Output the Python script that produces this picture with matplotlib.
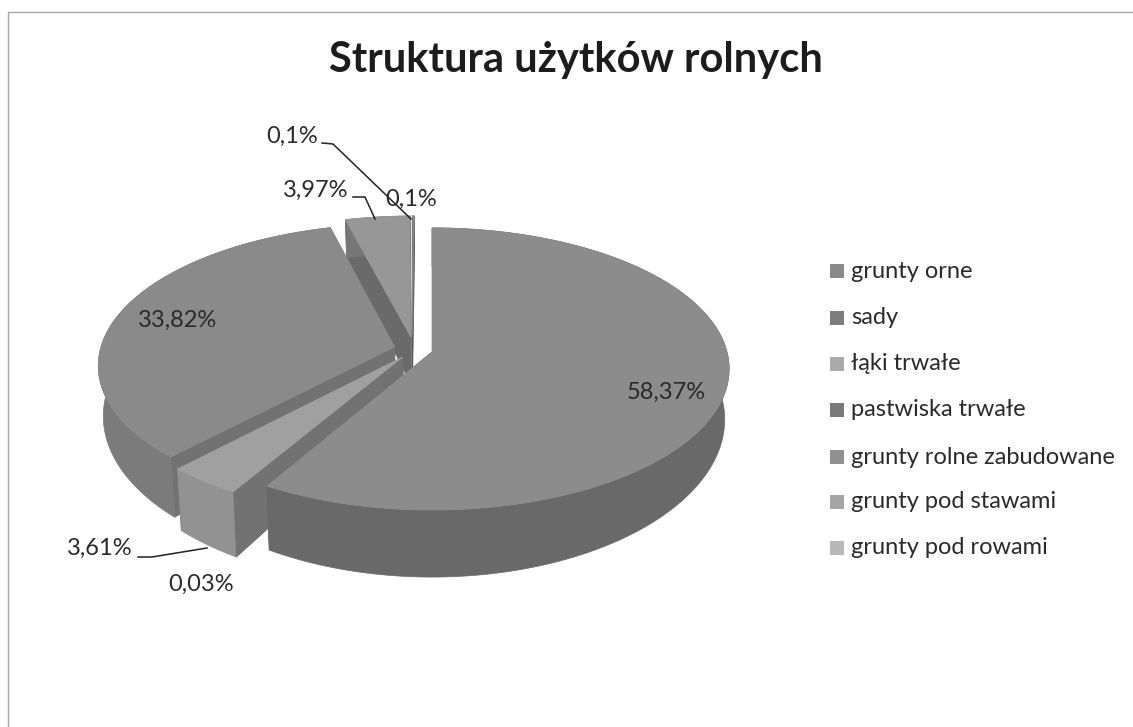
import numpy as np
import matplotlib
matplotlib.use("Agg")
from matplotlib import pyplot as plt
from matplotlib.patches import Rectangle

categories = ["grunty orne", "sady", "łąki trwałe", "pastwiska trwałe",
              "grunty rolne zabudowane", "grunty pod stawami", "grunty pod rowami"]
values = [58.37, 0.03, 3.61, 33.82, 3.97, 0.1, 0.1]
value_labels = ["58,37%", "0,03%", "3,61%", "33,82%", "3,97%", "0,1%", "0,1%"]

top_colors = ["#8c8c8c", "#7f7f7f", "#a0a0a0", "#8a8a8a", "#979797", "#e8e8e8", "#8a8a8a"]
wall_colors = ["#696969", "#6a6a6a", "#929292", "#7b7b7b", "#777777", "#555555", "#555555"]
face_colors = ["#696969", "#6a6a6a", "#727272", "#727272", "#6a6a6a", "#555555", "#555555"]
legend_colors = ["#8a8a8a", "#7d7d7d", "#aaaaaa", "#7a7a7a", "#909090", "#a5a5a5", "#b8b8b8"]

# how far each slice is pulled out of the pie (right, back)
pull = [(0, 0), (-0.0985, -0.0355), (-0.0985, -0.0355), (-0.127, 0.036),
        (-0.0726, 0.109), (-0.068, 0.109), (-0.068, 0.109)]
draw_order = [4, 5, 6, 3, 1, 2, 0]

W, H = 1133, 727
plt.rcParams["font.family"] = ["Lato", "DejaVu Sans"]
fig = plt.figure(figsize=(W / 100, H / 100), dpi=100, facecolor="white")
ax = fig.add_axes([0, 0, 1, 1])
ax.set_xlim(0, W)
ax.set_ylim(H, 0)
ax.axis("off")
ax.plot([8, 8, W], [H, 12, 12], color="#a8a8a8", lw=1)

# perspective of the tilted disc, pixels on screen
px, py, A, B, k = 432, 352, 139, 295, 0.12
D, k2 = 49, 0.27


def top_xy(u, v):
    return px + B * u / (1 + k * v), py - A * v / (1 + k * v)


def bottom_xy(u, v):
    x, y = top_xy(u, v)
    return px + (x - px) * 0.985, y + D / (1 + k2 * v)


edges = np.cumsum([0] + values) / sum(values) * 2 * np.pi


def slice_parts(i):
    t = np.linspace(edges[i], edges[i + 1], max(3, int((edges[i + 1] - edges[i]) * 60)))
    u = pull[i][0] + np.sin(t)
    v = pull[i][1] + np.cos(t)
    return u, v


for i in draw_order:
    u, v = slice_parts(i)
    u0, v0 = pull[i]
    tx, ty = top_xy(u, v)
    bx, by = bottom_xy(u, v)
    ax0, ay0 = top_xy(u0, v0)
    bx0, by0 = bottom_xy(u0, v0)
    # the two cut faces
    for j in (0, -1):
        ax.fill([ax0, tx[j], bx[j], bx0], [ay0, ty[j], by[j], by0],
                color=face_colors[i], lw=0.5)
    # rim
    ax.fill(np.r_[tx, bx[::-1]], np.r_[ty, by[::-1]], color=wall_colors[i], lw=0.5)
    # top
    ax.fill(np.r_[ax0, tx], np.r_[ay0, ty], color=top_colors[i], lw=0.5)

fs = 17
ink = "#2a2a2a"
ax.text(576, 60, "Struktura użytków rolnych", fontsize=30, fontweight="bold",
        ha="center", va="center", color="#1c1c1c")

label_xy = [(666, 392), (201, 584), (100, 548), (178, 320), (316, 190), (292, 136), (411, 199)]
for lab, (x, y) in zip(value_labels, label_xy):
    ax.text(x, y, lab, fontsize=fs, ha="center", va="center", color=ink)

# leader lines
ax.plot([138, 152, 207], [557, 557, 548], color="#222222", lw=1.1)
ax.plot([322, 333, 411], [143, 144, 219], color="#222222", lw=1.1)
ax.plot([353, 365, 375], [197, 197, 219], color="#222222", lw=1.1)

legend_y = [271, 318, 364, 410, 457, 502, 548]
for name, color, y in zip(categories, legend_colors, legend_y):
    ax.add_patch(Rectangle((830, y - 7), 14, 14, facecolor=color, edgecolor="none"))
    ax.text(851, y, name, fontsize=fs, ha="left", va="center", color=ink)

fig.savefig("out.png", dpi=100)
